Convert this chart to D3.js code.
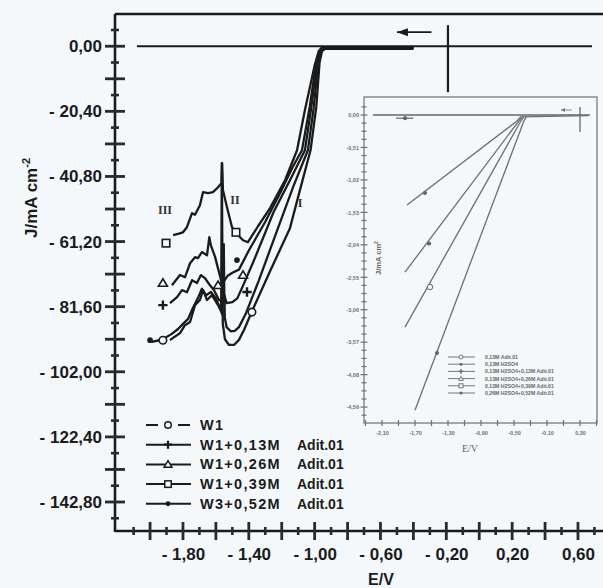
<!DOCTYPE html>
<html>
<head>
<meta charset="utf-8">
<script src="https://cdn.jsdelivr.net/npm/d3@7"></script>
<style>
  html, body { margin: 0; padding: 0; background: #f4f8fb; }
  svg { display: block; }
</style>
</head>
<body>
<div id="chart"></div>
<script>
// ---- main chart data: [E / V, J / mA cm-2] ----
const seriesNames = ["W1", "W1+0,13M", "W1+0,26M", "W1+0,39M", "W3+0,52M"];
const seriesAdditive = ["", "Adit.01", "Adit.01", "Adit.01", "Adit.01"];
const seriesMarkers = ["circle", "plus", "triangle", "square", "dot"];

const w1 = [[-1.879,-92.1],[-1.85,-91.0],[-1.818,-89.9],[-1.788,-87.4],[-1.757,-86.4],[-1.727,-81.1],
  [-1.697,-79.5],[-1.678,-76.4],[-1.654,-79.5],[-1.624,-78.0],[-1.587,-81.1],[-1.568,-83.0],[-1.564,-36.6],
  [-1.558,-87.0],[-1.545,-91.8],[-1.52,-93.6],[-1.49,-93.6],[-1.46,-92.0],[-1.43,-89.0],[-1.393,-84.5],
  [-1.363,-81.0],[-1.271,-70.5],[-1.15,-57.0],[-1.089,-45.0],[-1.025,-32.6],[-0.99,-19.0],[-0.97,-5.0],
  [-0.955,-1.5],[-0.935,-0.8],[-0.40,-0.8]];
const w1a13 = [[-1.879,-80.5],[-1.836,-78.6],[-1.806,-76.4],[-1.776,-77.1],[-1.745,-73.3],[-1.715,-74.2],
  [-1.691,-71.7],[-1.666,-72.7],[-1.636,-74.9],[-1.612,-76.4],[-1.581,-79.5],[-1.56,-80.0],[-1.548,-78.0],
  [-1.546,-85.0],[-1.535,-88.0],[-1.51,-89.3],[-1.485,-89.2],[-1.46,-88.0],[-1.42,-84.0],[-1.34,-73.5],
  [-1.23,-58.0],[-1.13,-44.0],[-1.041,-32.6],[-1.005,-19.0],[-0.978,-5.0],[-0.96,-1.5],[-0.94,-0.6],[-0.40,-0.6]];
const w1a26 = [[-1.867,-74.9],[-1.818,-71.7],[-1.788,-72.4],[-1.757,-68.0],[-1.727,-66.1],[-1.709,-66.4],
  [-1.685,-64.5],[-1.654,-65.5],[-1.640,-59.8],[-1.630,-62.5],[-1.605,-66.0],[-1.58,-71.0],[-1.565,-74.0],
  [-1.552,-62.0],[-1.549,-78.0],[-1.535,-80.5],[-1.50,-80.2],[-1.47,-79.0],[-1.435,-75.0],[-1.36,-66.0],
  [-1.25,-52.0],[-1.15,-42.0],[-1.059,-32.6],[-1.02,-19.0],[-0.985,-5.0],[-0.965,-1.5],[-0.945,-0.5],[-0.40,-0.5]];
const w1a39 = [[-1.86,-59.2],[-1.83,-58.8],[-1.80,-58.3],[-1.776,-56.7],[-1.745,-52.3],[-1.727,-52.8],
  [-1.697,-49.8],[-1.678,-45.7],[-1.648,-46.0],[-1.618,-45.7],[-1.587,-44.2],[-1.566,-42.9],[-1.562,-36.6],
  [-1.557,-45.1],[-1.53,-51.0],[-1.502,-56.7],[-1.47,-59.0],[-1.435,-60.8],[-1.405,-61.4],[-1.344,-56.4],
  [-1.271,-50.7],[-1.18,-42.0],[-1.107,-32.6],[-1.059,-20.0],[-1.0,-6.0],[-0.975,-1.5],[-0.955,-0.3],[-0.40,-0.3]];
const w3a52 = [[-1.99,-92.6],[-1.95,-92.2],[-1.91,-91.4],[-1.87,-90.2],[-1.83,-88.6],[-1.80,-87.0],
  [-1.77,-85.5],[-1.74,-82.0],[-1.71,-79.0],[-1.685,-76.0],[-1.66,-78.0],[-1.63,-77.0],[-1.60,-79.0],
  [-1.575,-82.0],[-1.562,-84.0],[-1.556,-74.0],[-1.53,-72.0],[-1.50,-71.0],[-1.46,-70.0],[-1.40,-64.0],
  [-1.30,-55.0],[-1.20,-45.0],[-1.135,-38.0],[-1.077,-32.6],[-1.03,-19.0],[-0.99,-5.0],[-0.97,-1.5],
  [-0.95,-0.4],[-0.40,-0.4]];
const seriesData = [w1, w1a13, w1a26, w1a39, w3a52];

// marker positions on each curve
const w1Marks = [[-1.922,-92.1],[-1.381,-83.3]];
const w1a13Marks = [[-1.922,-81.1],[-1.411,-77.0]];
const w1a26Marks = [[-1.922,-74.2],[-1.435,-71.7],[-1.587,-74.9]];
const w1a39Marks = [[-1.903,-61.7],[-1.478,-58.3]];
const w3a52Marks = [[-2.0,-92.1],[-1.472,-67.0]];
const seriesMarks = [w1Marks, w1a13Marks, w1a26Marks, w1a39Marks, w3a52Marks];

const zeroLine = [[-2.08, 0], [0.685, 0]];
const startLine = [[-0.19, 6.6], [-0.19, -14.4]];
const sweepArrow = [[-0.29, 4.4], [-0.50, 4.4]];
const curveLabels = ["III", "II", "I"];
const curveLabelPos = [[-1.909,-51.4],[-1.484,-48.2],[-1.089,-49.2]];

const yTickLabels = [0, -20.4, -40.8, -61.2, -81.6, -102, -122.4, -142.8];
const yMajorTicks = [0, -10.2, -20.4, -30.6, -40.8, -51, -61.2, -71.4, -81.6, -91.8, -102, -112.2,
  -122.4, -132.6, -142.8];
const yMinorTicks = [5.1, -5.1, -15.3, -25.5, -35.7, -45.9, -56.1, -66.3, -76.5, -86.7, -96.9, -107.1,
  -117.3, -127.5, -137.7, -147.9];
const xTickLabels = [-1.8, -1.4, -1.0, -0.6, -0.2, 0.2, 0.6];
const xMajorTicks = [-2.0, -1.8, -1.6, -1.4, -1.2, -1.0, -0.8, -0.6, -0.4, -0.2, 0, 0.2, 0.4, 0.6];
const xMinorTicks = [-2.1, -1.9, -1.7, -1.5, -1.3, -1.1, -0.9, -0.7, -0.5, -0.3, -0.1, 0.1, 0.3, 0.5, 0.7];

// ---- inset data ----
const insetNames = ["0,13M Adit.01", "0,13M H2SO4", "0,13M H2SO4+0,13M Adit.01",
  "0,13M H2SO4+0,26M Adit.01", "0,13M H2SO4+0,39M Adit.01", "0,26M H2SO4+0,52M Adit.01"];
const insetLegendMarkers = ["circle", "dot", "plus", "triangle", "square", "dot"];
const insetZero = [[-2.21, 0], [0.42, 0]];
const insetA = [[-1.797,-1.415],[-0.464,-0.094],[-0.42,-0.03],[0.40,-0.01]];
const insetB = [[-1.821,-2.469],[-0.439,-0.09],[-0.40,-0.03]];
const insetC = [[-1.821,-3.333],[-0.415,-0.09],[-0.38,-0.03]];
const insetD = [[-1.700,-4.638],[-0.379,-0.09],[-0.35,-0.03]];
const insetBit = [[-1.93,-0.05],[-1.72,-0.05]];
const insetLines = [insetA, insetB, insetC, insetD, insetBit];
const insetMarks = [[-1.579,-1.226],[-1.530,-2.02],[-1.518,-2.704],[-1.433,-3.74],[-1.82,-0.05]];
const insetMarkTypes = ["dot", "dot", "circle", "dot", "dot"];
const insetStart = [[0.30, 0.126], [0.30, -0.267]];
const insetArrow = [[0.20, 0.079], [0.07, 0.079]];
const insetYTickLabels = [0, -0.51, -1.02, -1.53, -2.04, -2.55, -3.06, -3.57, -4.08, -4.59];
const insetYMinorTicks = [0.1275, -0.1275, -0.255, -0.3825, -0.6375, -0.765, -0.8925, -1.1475, -1.275,
  -1.4025, -1.6575, -1.785, -1.9125, -2.1675, -2.295, -2.4225, -2.6775, -2.805, -2.9325, -3.1875, -3.315,
  -3.4425, -3.6975, -3.825, -3.9525, -4.2075, -4.335, -4.4625, -4.7175];
const insetXTickLabels = [-2.1, -1.7, -1.3, -0.9, -0.5, -0.1, 0.3];
const insetXTicks = [-2.3, -2.1, -1.9, -1.7, -1.5, -1.3, -1.1, -0.9, -0.7, -0.5, -0.3, -0.1, 0.1, 0.3, 0.5];

// ---- drawing ----
const W = 603, H = 588;
const bg = "#f4f8fb", ink = "#1b1b1b", tickInk = "#2a2a2a", grey = "#707070";
const sans = "'Liberation Sans', Arial, sans-serif";
const serif = "'Liberation Serif', 'Times New Roman', serif";

const svg = d3.select("#chart").append("svg").attr("width", W).attr("height", H);
svg.append("rect").attr("width", W).attr("height", H).attr("fill", bg);

const x = d3.scaleLinear().domain([-2.213, 0.752]).range([115, 603]);
const y = d3.scaleLinear().domain([-152.2, 10.1]).range([532, 14]);

const fmtMain = (v) => (Math.abs(v) < 1e-9 ? "0,00" :
  (v < 0 ? "- " : "") + Math.abs(v).toFixed(2).replace(".", ","));

function labelAxis(g, color, size) {
  g.select(".domain").remove();
  g.selectAll(".tick line").remove();
  g.selectAll("text").attr("fill", color).attr("font-family", sans)
    .attr("font-weight", "bold").attr("font-size", size);
}

const x0 = x.range()[0], yTop = y.range()[1], yBot = y.range()[0] - 1;

// tick marks crossing the axes, drawn last so nothing covers them
function crossTicksY(layer, vals, scale, px, half, color, w) {
  layer.append("g").selectAll("line").data(vals).join("line")
    .attr("x1", px - half).attr("x2", px + half)
    .attr("y1", (d) => scale(d)).attr("y2", (d) => scale(d))
    .style("stroke", color).style("stroke-width", w + "px");
}
function crossTicksX(layer, vals, scale, py, half, color, w) {
  layer.append("g").selectAll("line").data(vals).join("line")
    .attr("y1", py - half).attr("y2", py + half)
    .attr("x1", (d) => scale(d)).attr("x2", (d) => scale(d))
    .style("stroke", color).style("stroke-width", w + "px");
}

// frame lines
svg.append("line").attr("x1", x0).attr("x2", W).attr("y1", yTop).attr("y2", yTop)
  .attr("stroke", ink).attr("stroke-width", 2.4);
svg.append("line").attr("x1", x0).attr("x2", x0).attr("y1", yTop).attr("y2", yBot + 1)
  .attr("stroke", ink).attr("stroke-width", 2.6);
svg.append("line").attr("x1", x0).attr("x2", W).attr("y1", yBot).attr("y2", yBot)
  .attr("stroke", ink).attr("stroke-width", 2.6);

svg.append("g").attr("transform", `translate(${x0},0)`)
  .call(d3.axisLeft(y).tickValues(yTickLabels).tickSize(10).tickPadding(3).tickFormat(fmtMain))
  .call((g) => labelAxis(g, ink, 17));
svg.append("g").attr("transform", `translate(0,${yBot})`)
  .call(d3.axisBottom(x).tickValues(xTickLabels).tickSize(9).tickPadding(8).tickFormat(fmtMain))
  .call((g) => labelAxis(g, ink, 17));

// axis titles
const yTitle = svg.append("text").attr("transform", "translate(37,198) rotate(-90)")
  .attr("text-anchor", "middle").attr("font-family", sans).attr("font-weight", "bold")
  .attr("font-size", 17).attr("fill", ink);
yTitle.append("tspan").text("J/mA cm");
yTitle.append("tspan").attr("dy", -7).attr("font-size", 11).text("-2");
svg.append("text").attr("x", 381).attr("y", 585).attr("text-anchor", "middle")
  .attr("font-family", sans).attr("font-weight", "bold").attr("font-size", 16).attr("fill", ink).text("E/V");

// markers
function drawMarker(g, type, cx, cy, s, color, sw) {
  if (type === "circle") {
    g.append("circle").attr("cx", cx).attr("cy", cy).attr("r", s * 0.5)
      .attr("fill", bg).attr("stroke", color).attr("stroke-width", sw);
  } else if (type === "dot") {
    g.append("circle").attr("cx", cx).attr("cy", cy).attr("r", s * 0.38).attr("fill", color);
  } else if (type === "square") {
    g.append("rect").attr("x", cx - s / 2).attr("y", cy - s / 2).attr("width", s).attr("height", s)
      .attr("fill", bg).attr("stroke", color).attr("stroke-width", sw);
  } else if (type === "triangle") {
    const h = s * 0.95;
    g.append("path").attr("d", `M${cx},${cy - h * 0.6}L${cx + s * 0.6},${cy + h * 0.45}L${cx - s * 0.6},${cy + h * 0.45}Z`)
      .attr("fill", bg).attr("stroke", color).attr("stroke-width", sw);
  } else if (type === "plus") {
    g.append("path").attr("d", `M${cx - s * 0.62},${cy}H${cx + s * 0.62}M${cx},${cy - s * 0.62}V${cy + s * 0.62}`)
      .attr("stroke", color).attr("stroke-width", sw * 1.5);
  }
}

const line = d3.line().x((d) => x(d[0])).y((d) => y(d[1]));

// zero line and start marker
svg.append("path").datum(zeroLine).attr("d", line).attr("fill", "none").attr("stroke", ink).attr("stroke-width", 2.2);
svg.append("path").datum(startLine).attr("d", line).attr("fill", "none").attr("stroke", ink).attr("stroke-width", 2.2);
svg.append("path").datum(sweepArrow).attr("d", line).attr("fill", "none").attr("stroke", ink).attr("stroke-width", 1.8);
{
  const ax = x(sweepArrow[1][0]), ay = y(sweepArrow[1][1]);
  svg.append("path").attr("d", `M${ax},${ay}L${ax + 11},${ay - 4}L${ax + 11},${ay + 4}Z`).attr("fill", ink);
}

// main curves
const curves = svg.append("g");
seriesData.forEach((data) => {
  curves.append("path").datum(data).attr("d", line).attr("fill", "none")
    .attr("stroke", ink).attr("stroke-width", 2.3).attr("stroke-linejoin", "round");
});
seriesMarks.forEach((marks, i) => {
  marks.forEach((m) => drawMarker(curves, seriesMarkers[i], x(m[0]), y(m[1]), 7.5, ink, 1.6));
});
curveLabels.forEach((t, i) => {
  svg.append("text").attr("x", x(curveLabelPos[i][0])).attr("y", y(curveLabelPos[i][1]) + 4)
    .attr("text-anchor", "middle").attr("font-family", serif).attr("font-weight", "bold")
    .attr("font-size", 12).attr("fill", "#333").text(t);
});

// main legend
const leg = svg.append("g");
seriesNames.forEach((name, i) => {
  const cy = 425 + i * 19.7;
  if (seriesMarkers[i] === "circle") {
    leg.append("line").attr("x1", 146).attr("x2", 158).attr("y1", cy).attr("y2", cy).attr("stroke", ink).attr("stroke-width", 2);
    leg.append("line").attr("x1", 178).attr("x2", 190).attr("y1", cy).attr("y2", cy).attr("stroke", ink).attr("stroke-width", 2);
  } else {
    leg.append("line").attr("x1", 146).attr("x2", 191).attr("y1", cy).attr("y2", cy).attr("stroke", ink).attr("stroke-width", 2);
  }
  drawMarker(leg, seriesMarkers[i], 168, cy, 6.5, ink, 1.5);
  leg.append("text").attr("x", 200).attr("y", cy + 5).attr("font-family", sans).attr("font-weight", "bold")
    .attr("font-size", 14.5).attr("letter-spacing", 1.3).attr("fill", ink).text(name);
  if (seriesAdditive[i]) {
    leg.append("text").attr("x", 297).attr("y", cy + 5).attr("font-family", sans).attr("font-weight", "bold")
      .attr("font-size", 14).attr("fill", ink).text(seriesAdditive[i]);
  }
});

// ---- inset ----
const xi = d3.scaleLinear().domain([-2.318, 0.506]).range([364, 597]);
const yi = d3.scaleLinear().domain([-4.84, 0.283]).range([423, 97]);
const fmtInset = (v) => (Math.abs(v) < 1e-9 ? "0,00" : (v < 0 ? "-" : "") + Math.abs(v).toFixed(2).replace(".", ","));
const inset = svg.append("g");
const ix0 = xi.range()[0], iyBot = yi.range()[0];
inset.append("rect").attr("x", ix0).attr("y", yi.range()[1])
  .attr("width", xi.range()[1] - ix0).attr("height", iyBot - yi.range()[1])
  .attr("fill", "none").attr("stroke", "#7a7a7a").attr("stroke-width", 1.3);

inset.append("g").attr("transform", `translate(${ix0},0)`)
  .call(d3.axisLeft(yi).tickValues(insetYTickLabels).tickSize(3).tickPadding(2).tickFormat(fmtInset))
  .call((g) => labelAxis(g, grey, 5.5));
inset.append("g").attr("transform", `translate(0,${iyBot})`)
  .call(d3.axisBottom(xi).tickValues(insetXTickLabels).tickSize(3).tickPadding(5).tickFormat(fmtInset))
  .call((g) => labelAxis(g, grey, 5.5));

inset.append("text").attr("x", 470).attr("y", 452).attr("text-anchor", "middle")
  .attr("font-family", serif).attr("font-size", 10).attr("fill", "#666").text("E/V");
const iyTitle = inset.append("text").attr("transform", "translate(381,258) rotate(-90)")
  .attr("text-anchor", "middle").attr("font-family", sans).attr("font-weight", "bold")
  .attr("font-size", 7.5).attr("fill", "#666");
iyTitle.append("tspan").text("J/mA cm");
iyTitle.append("tspan").attr("dy", -3).attr("font-size", 5).text("2");

const iline = d3.line().x((d) => xi(d[0])).y((d) => yi(d[1]));
inset.append("path").datum(insetZero).attr("d", iline).attr("fill", "none").attr("stroke", "#666").attr("stroke-width", 1.6);
inset.append("path").datum(insetStart).attr("d", iline).attr("fill", "none").attr("stroke", "#666").attr("stroke-width", 1.3);
inset.append("path").datum(insetArrow).attr("d", iline).attr("fill", "none").attr("stroke", "#888").attr("stroke-width", 1);
{
  const ax = xi(insetArrow[1][0]), ay = yi(insetArrow[1][1]);
  inset.append("path").attr("d", `M${ax},${ay}L${ax + 4},${ay - 2}L${ax + 4},${ay + 2}Z`).attr("fill", "#777");
}
insetLines.forEach((data) => {
  inset.append("path").datum(data).attr("d", iline).attr("fill", "none")
    .attr("stroke", "#6e6e6e").attr("stroke-width", 1.3);
});
insetMarks.forEach((m, i) => drawMarker(inset, insetMarkTypes[i], xi(m[0]), yi(m[1]), 5.5, "#666", 1));

// inset legend
insetNames.forEach((name, i) => {
  const cy = 357 + i * 7.2;
  inset.append("line").attr("x1", 448).attr("x2", 475).attr("y1", cy).attr("y2", cy)
    .attr("stroke", "#777").attr("stroke-width", 1);
  drawMarker(inset, insetLegendMarkers[i], 461, cy, 4, "#666", 0.9);
  inset.append("text").attr("x", 485).attr("y", cy + 2).attr("font-family", sans).attr("font-weight", "bold")
    .attr("font-size", 5.2).attr("fill", "#666").text(name);
});

// tick layer on top of everything
const tickLayer = svg.append("g").attr("class", "ticks");
crossTicksY(tickLayer, yMajorTicks, y, x0, 10, tickInk, 2.8);
crossTicksY(tickLayer, yMinorTicks, y, x0, 4, tickInk, 2.6);
crossTicksX(tickLayer, xMajorTicks, x, yBot, 9, tickInk, 2.8);
crossTicksX(tickLayer, xMinorTicks, x, yBot, 4, tickInk, 2.6);
crossTicksY(tickLayer, insetYMinorTicks, yi, ix0, 2.5, grey, 1.2);
crossTicksY(tickLayer, insetYTickLabels, yi, ix0, 3.5, grey, 1.2);
crossTicksX(tickLayer, insetXTicks, xi, iyBot, 3, grey, 1.2);
</script>
</body>
</html>
